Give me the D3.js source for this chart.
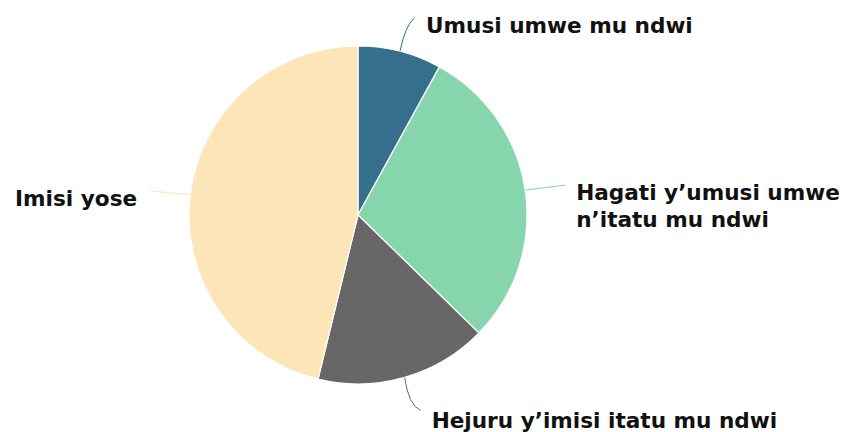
<!DOCTYPE html>
<html>
<head>
<meta charset="utf-8">
<script src="https://cdn.jsdelivr.net/npm/d3@7"></script>
<style>
  body { margin: 0; background: #fff; }
  svg { display: block; }
</style>
</head>
<body>
<svg id="chart"></svg>
<script>
// Chart data
const categories = [
    "Umusi umwe mu ndwi",
    "Hagati y\u2019umusi umwe n\u2019itatu mu ndwi",
    "Hejuru y\u2019imisi itatu mu ndwi",
    "Imisi yose"
];
const values = [8, 29.3, 16.5, 46.2];
const labelLines = [
    ["Umusi umwe mu ndwi"],
    ["Hagati y\u2019umusi umwe", "n\u2019itatu mu ndwi"],
    ["Hejuru y\u2019imisi itatu mu ndwi"],
    ["Imisi yose"]
];
const colors = ["#366f8b", "#86d5ac", "#696766", "#fce5b7"];

const width = 844;
const height = 432;
const cx = 358, cy = 215;
const radius = 169;

const svg = d3.select("#chart")
    .attr("width", width)
    .attr("height", height);

const g = svg.append("g")
    .attr("transform", `translate(${cx}, ${cy})`);

const data = categories.map((c, i) => ({ label: c, value: values[i], lines: labelLines[i], color: colors[i] }));

const pie = d3.pie()
    .value(d => d.value)
    .sort(null);

const arc = d3.arc()
    .innerRadius(0)
    .outerRadius(radius);

const arcs = pie(data);

// Slices
g.selectAll("path.slice")
    .data(arcs)
    .enter()
    .append("path")
    .attr("class", "slice")
    .attr("d", arc)
    .attr("fill", d => d.data.color)
    .attr("stroke", "#fff")
    .attr("stroke-width", 1.2);

// Leader lines: start on the rim at the slice's mid angle,
// ctrl / end are offsets from that start point; text placed relative to end
const leader = [
    { ctrl: [5, -25], end: [14, -33], tx: 12, ty: 15, anchor: "start" },
    { ctrl: null, end: [40, -5], tx: 11, ty: 15, anchor: "start" },
    { ctrl: [4, 28], end: [16, 33], tx: 11, ty: 18, anchor: "start" },
    { ctrl: null, end: [-40, -4], tx: -13, ty: 15, anchor: "end" }
];

arcs.forEach((d, i) => {
    const mid = (d.startAngle + d.endAngle) / 2;
    const L = leader[i];
    const x0 = Math.sin(mid) * radius, y0 = -Math.cos(mid) * radius;
    const x2 = x0 + L.end[0], y2 = y0 + L.end[1];
    const path = d3.path();
    path.moveTo(x0, y0);
    if (L.ctrl) path.quadraticCurveTo(x0 + L.ctrl[0], y0 + L.ctrl[1], x2, y2);
    else path.lineTo(x2, y2);
    g.append("path")
        .attr("d", path.toString())
        .attr("fill", "none")
        .attr("stroke", d.data.color)
        .attr("stroke-width", 1);

    const text = g.append("text")
        .attr("x", x2 + L.tx)
        .attr("y", y2 + L.ty)
        .attr("text-anchor", L.anchor)
        .style("font-family", "'DejaVu Sans', Verdana, sans-serif")
        .style("font-weight", "bold")
        .style("font-size", "21.6px")
        .style("fill", "#111");
    d.data.lines.forEach((t, j) => {
        text.append("tspan")
            .attr("x", x2 + L.tx)
            .attr("dy", j === 0 ? 0 : 27)
            .text(t);
    });
});
</script>
</body>
</html>
